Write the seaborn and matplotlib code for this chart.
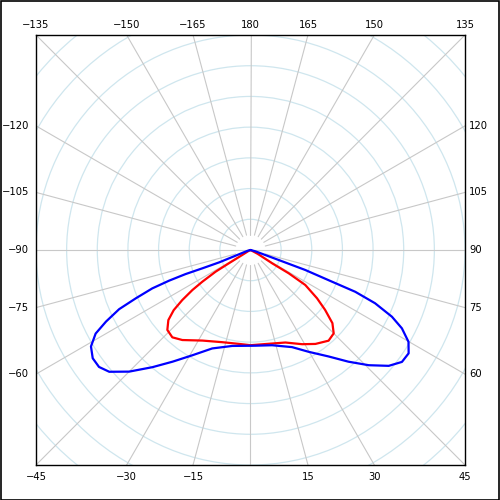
import numpy as np
import pandas as pd
import matplotlib
matplotlib.use("Agg")
import matplotlib.pyplot as plt
import seaborn as sns
from matplotlib.patches import Circle, Rectangle

# intensity curves, listed in drawing order (angle in degrees, 0 = straight down)
blue_angles = [-90, -75, -68.5, -69.2, -69.7, -69.4, -68.7, -67.2, -65.8, -63.7, -61.7,
               -58.9, -55.6, -52.4, -49.3, -45, -40, -35, -29, -21.3, -10.8, 3, 12.8,
               23.2, 29.8, 36.3, 41.3, 45.8, 50.1, 53.6, 56.9, 59.9, 62.7, 64.8, 66.9,
               68.3, 68.8, 70, 70.5, 75, 90]
blue_values = [0, 5, 55, 84, 113, 142, 172, 203, 235, 263, 287,
               304, 312, 312, 304, 280, 249, 222, 196, 172, 159, 156, 159,
               172, 191, 215, 242, 269, 294, 307, 308, 298, 278, 255, 221,
               184, 143, 95, 49, 8, 0]

red_angles = [-90, -65, -59, -58.5, -58.2, -56.7, -55.5, -53.8, -52, -49.6, -46.2, -41.9,
              -37.2, -28, -17.1, -7.1, 0, 9, 20.7, 28.8, 34.7, 40.8, 45, 48.3, 51.3,
              54.1, 57.5, 58.7, 58.5, 62, 90]
red_values = [0, 3, 16, 42, 67, 94, 115, 138, 159, 176, 188, 191,
              184, 167, 157, 154, 155, 155, 161, 175, 186, 195, 192, 179, 156,
              134, 106, 73, 42, 13, 0]

# grid
ring_step = 50
ring_count = 9
half = 350
label_angles = [-165, -150, -135, -120, -105, -90, -75, -60, -45, -30, -15,
                15, 30, 45, 60, 75, 90, 105, 120, 135, 150, 165, 180]


def to_xy(angles, values):
    t = np.radians(angles)
    v = np.asarray(values, dtype=float)
    return pd.DataFrame({"x": v * np.sin(t), "y": -v * np.cos(t)})


sns.set_style("white")
plt.rcParams["font.family"] = ["DejaVu Sans"]
plt.rcParams["text.color"] = "black"

fig = plt.figure(figsize=(5, 5), dpi=100)
ax = fig.add_axes([0.072, 0.07, 0.858, 0.86])
ax.set_xlim(-half, half)
ax.set_ylim(-half, half)
ax.set_xticks([])
ax.set_yticks([])
for s in ax.spines.values():
    s.set_color("black")
    s.set_linewidth(1)

# concentric rings
for k in range(1, ring_count + 1):
    ax.add_patch(Circle((0, 0), k * ring_step, fill=False, ec="#cfe6ee", lw=0.9, zorder=1))

# radial lines
for a in range(-165, 181, 15):
    t = np.radians(a)
    r0 = 0 if abs(a) == 90 else 25
    ax.plot([r0 * np.sin(t), 600 * np.sin(t)], [-r0 * np.cos(t), -600 * np.cos(t)],
            color="#c8c8c8", lw=0.8, zorder=2)

# curves
sns.lineplot(data=to_xy(blue_angles, blue_values), x="x", y="y", sort=False,
             estimator=None, color="#0000ff", lw=1.6, ax=ax, zorder=4)
sns.lineplot(data=to_xy(red_angles, red_values), x="x", y="y", sort=False,
             estimator=None, color="#ff0000", lw=1.6, ax=ax, zorder=3)
ax.set_xlabel("")
ax.set_ylabel("")

# angle labels at box edges
for a in label_angles:
    t = np.radians(a)
    s, c = np.sin(t), -np.cos(t)
    k = half / max(abs(s), abs(c))
    px, py = k * s, k * c
    lab = str(a).replace("-", "\u2212")
    kw = dict(textcoords="offset points", fontsize=7.2, color="black", annotation_clip=False)
    if abs(a) >= 135:
        ax.annotate(lab, (px, py), xytext=(0, 7), ha="center", va="center", **kw)
    elif abs(a) <= 45:
        ax.annotate(lab, (px, py), xytext=(0, -9), ha="center", va="center", **kw)
    elif a < 0:
        ax.annotate(lab, (px, py), xytext=(-5, 0), ha="right", va="center", **kw)
    else:
        ax.annotate(lab, (px, py), xytext=(3, 0), ha="left", va="center", **kw)

# outer frame
fig.patches.append(Rectangle((0.001, 0.001), 0.997, 0.997, transform=fig.transFigure,
                             fill=False, ec="black", lw=1.2))

fig.savefig("out.png", dpi=100, facecolor="white")
